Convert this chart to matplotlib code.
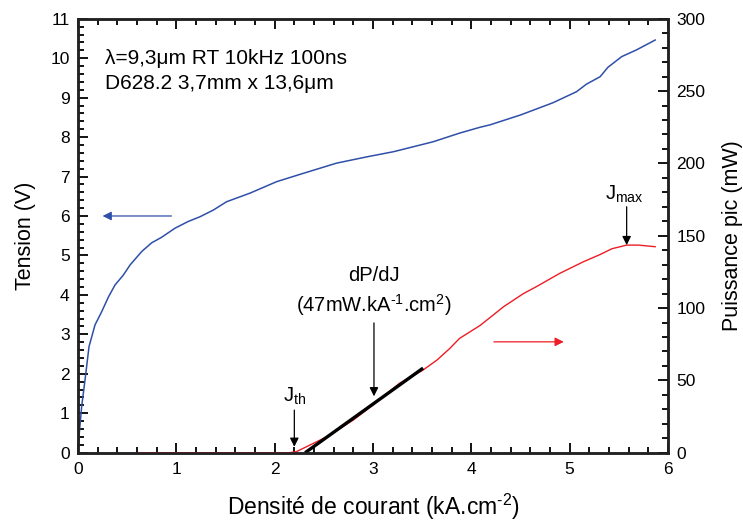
import matplotlib
matplotlib.use("Agg")
import matplotlib.pyplot as plt
from matplotlib.ticker import MultipleLocator

plt.rcParams['font.family'] = ['Liberation Sans', 'DejaVu Sans']
plt.rcParams['mathtext.default'] = 'regular'

# Voltage curve (left axis)
J_V = [0.0, 0.01, 0.037, 0.071, 0.112, 0.173, 0.24, 0.31, 0.376, 0.46, 0.53, 0.648, 0.749,
       0.85, 0.986, 1.12, 1.24, 1.376, 1.51, 1.75, 2.02, 2.29, 2.63, 2.94, 3.21, 3.61,
       3.88, 4.09, 4.19, 4.5, 4.83, 5.07, 5.17, 5.31, 5.39, 5.53, 5.68, 5.87]
V = [0.0, 0.41, 1.17, 1.84, 2.69, 3.24, 3.57, 3.95, 4.25, 4.5, 4.76, 5.1, 5.32,
     5.46, 5.69, 5.86, 5.98, 6.15, 6.36, 6.58, 6.87, 7.08, 7.34, 7.5, 7.63, 7.88,
     8.1, 8.25, 8.31, 8.56, 8.87, 9.15, 9.34, 9.53, 9.77, 10.04, 10.21, 10.46]

# Peak power curve (right axis)
J_P = [0.62, 1.0, 1.5, 2.0, 2.15, 2.22, 2.53, 2.80, 3.0, 3.27, 3.51, 3.65, 3.78, 3.88,
       4.09, 4.33, 4.53, 4.66, 4.9, 5.14, 5.31, 5.43, 5.58, 5.70, 5.87]
P = [0.0, 0.0, 0.0, 0.0, 0.0, 0.7, 11.0, 22.6, 33.0, 48.0, 57.2, 64.0, 72.0, 79.0,
     88.0, 101.0, 110.0, 114.7, 124.0, 132.0, 137.0, 141.0, 143.5, 143.5, 142.4]

# Linear fit dP/dJ
fit_J = [2.31, 3.51]
fit_P = [0.0, 58.5]

blue = '#2f4fa8'
red = '#ee1c25'

fig = plt.figure(figsize=(7.43, 5.23), dpi=100)
ax = fig.add_axes([0.105, 0.1344, 0.794, 0.8298])
ax2 = ax.twinx()

ax.plot(J_V, V, color=blue, lw=1.1)
ax2.plot(J_P, P, color=red, lw=1.0)
ax2.plot(fit_J, fit_P, color='black', lw=2.4, solid_capstyle='butt')

ax.set_xlim(0, 6)
ax.set_ylim(0, 11)
ax2.set_ylim(0, 300)

ax.xaxis.set_major_locator(MultipleLocator(1))
ax.xaxis.set_minor_locator(MultipleLocator(0.2))
ax.yaxis.set_major_locator(MultipleLocator(1))
ax.yaxis.set_minor_locator(MultipleLocator(0.2))
ax2.yaxis.set_major_locator(MultipleLocator(50))
ax2.yaxis.set_minor_locator(MultipleLocator(10))

ts = 12.5
ax.tick_params(axis='x', which='both', direction='in', top=True, bottom=True, labelsize=ts, width=1.3, pad=7)
ax.tick_params(axis='y', which='both', direction='in', left=True, right=False, labelsize=ts, width=1.3, pad=6)
ax.tick_params(which='major', length=7)
ax.tick_params(which='minor', length=4)
ax2.tick_params(axis='y', which='both', direction='in', labelsize=ts, width=1.3, pad=6)
ax2.tick_params(which='major', length=7)
ax2.tick_params(which='minor', length=4)

for a in (ax, ax2):
    for s in a.spines.values():
        s.set_linewidth(1.8)
        s.set_color('#222222')

ax.set_xlabel('Densité de courant (kA.cm$^{\u20102}$)', fontsize=16.5, labelpad=10)
ax.set_ylabel('Tension (V)', fontsize=15.5, labelpad=10)
ax2.set_ylabel('Puissance pic (mW)', fontsize=15.5, labelpad=12)

ax.text(0.27, 10.0, 'λ=9,3μm RT 10kHz 100ns', fontsize=15, va='center', ha='left')
ax.text(0.27, 9.37, 'D628.2 3,7mm x 13,6μm', fontsize=15, va='center', ha='left')

arrowkw = dict(arrowstyle='-|>', lw=0.9, mutation_scale=13, shrinkA=0, shrinkB=0)
ax.annotate('', xy=(0.25, 6.0), xytext=(0.95, 6.0), arrowprops=dict(color=blue, **arrowkw))
ax.annotate('', xy=(4.94, 2.81), xytext=(4.23, 2.81), arrowprops=dict(color=red, **arrowkw))
ax.annotate('', xy=(2.2, 0.15), xytext=(2.2, 1.08), arrowprops=dict(color='black', **arrowkw))
ax.annotate('', xy=(3.01, 1.43), xytext=(3.01, 3.29), arrowprops=dict(color='black', **arrowkw))
ax2.annotate('', xy=(5.58, 143.5), xytext=(5.58, 170), arrowprops=dict(color='black', **arrowkw))

ax.text(2.2, 1.15, 'J$_{th}$', fontsize=14.5, ha='center', va='bottom')
ax.text(3.01, 4.5, 'dP/dJ', fontsize=14.5, ha='center', va='center')
ax.text(3.01, 3.74, '(47mW.kA$^{\u20101}$.cm$^{2}$)', fontsize=14.5, ha='center', va='center')
ax2.text(5.56, 171, 'J$_{max}$', fontsize=14.5, ha='center', va='bottom')

fig.savefig('out.png', dpi=100)
